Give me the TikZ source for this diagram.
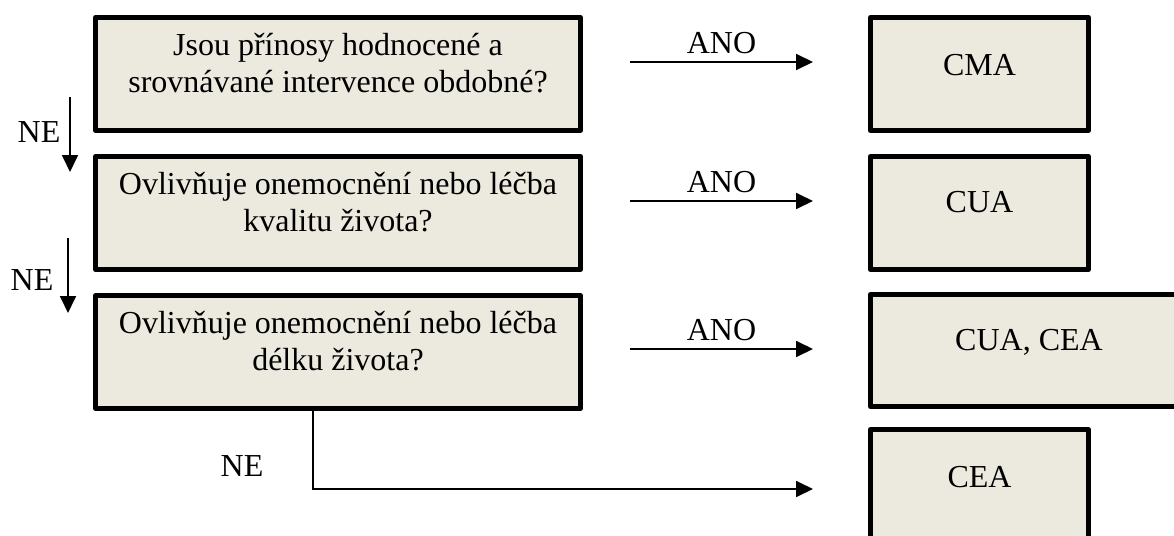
\documentclass[tikz,border=0pt]{standalone}
\usepackage{fontspec}
\setmainfont{Liberation Serif}
\usetikzlibrary{arrows.meta,calc}
\definecolor{boxfill}{RGB}{236,233,223}
\tikzset{
  box/.style={draw=black, line width=5pt, line join=round, fill=boxfill, minimum width=485pt, minimum height=113pt, inner sep=0pt},
  rbox/.style={box, minimum width=218pt},
  txt/.style={align=center, inner sep=0pt, font=\fontsize{32}{37}\selectfont},
  arr/.style={line width=1.8pt, -{Triangle[length=17pt,width=16pt]}},
}
\begin{document}
\begin{tikzpicture}[x=1pt,y=-1pt]
\useasboundingbox (0,0) rectangle (1174,535);
\clip (0,0) rectangle (1174,535);
% question boxes
\node[box] (q1) at (338,74) {};
\node[txt] (q1t) at ($(q1.center)+(0,-10.5)$) {Jsou přínosy hodnocené a\\srovnávané intervence obdobné?};
\node[box] (q2) at (338,213) {};
\node[txt] (q2t) at ($(q2.center)+(0,-10.5)$) {Ovlivňuje onemocnění nebo léčba\\kvalitu života?};
\node[box] (q3) at (338,352) {};
\node[txt] (q3t) at ($(q3.center)+(0,-10.5)$) {Ovlivňuje onemocnění nebo léčba\\délku života?};
% result boxes
\node[rbox] (r1) at (979.5,74) {};
\node[txt] (r1t) at ($(r1.center)+(0,-9)$) {CMA};
\node[rbox] (r2) at (979.5,213) {};
\node[txt] (r2t) at ($(r2.center)+(0,-11)$) {CUA};
\node[rbox, minimum width=317pt, minimum height=112pt] (r3) at (1029,350.5) {};
\node[txt] (r3t) at ($(r3.center)+(0,-8.5)$) {CUA, CEA};
\node[rbox] (r4) at (979.5,486) {};
\node[txt] (r4t) at ($(r4.north)+(0,50)$) {CEA};
% ANO arrows
\coordinate (a1s) at (630,62);  \coordinate (a1e) at (813,62);
\coordinate (a2s) at (630,201); \coordinate (a2e) at (813,201);
\coordinate (a3s) at (630,349); \coordinate (a3e) at (813,349);
\draw[arr] (a1s) -- node[txt, above=7pt] (l1) {ANO} (a1e);
\draw[arr] (a2s) -- node[txt, above=7pt] (l2) {ANO} (a2e);
\draw[arr] (a3s) -- node[txt, above=7pt] (l3) {ANO} (a3e);
% NE arrows
\coordinate (n1s) at (70,97);  \coordinate (n1e) at (70,172);
\coordinate (n2s) at (68,238); \coordinate (n2e) at (68,313);
\draw[arr] (n1s) -- (n1e);
\draw[arr] (n2s) -- (n2e);
\node[txt] (ne1) at (39,132) {NE};
\node[txt] (ne2) at (32,280) {NE};
% bottom connector
\coordinate (bc) at (313,489);
\coordinate (be) at (813,489);
\draw[arr] (q3.south -| bc) -- (bc) -- (be);
\node[txt] (ne3) at (242,466) {NE};
\end{tikzpicture}
\end{document}
